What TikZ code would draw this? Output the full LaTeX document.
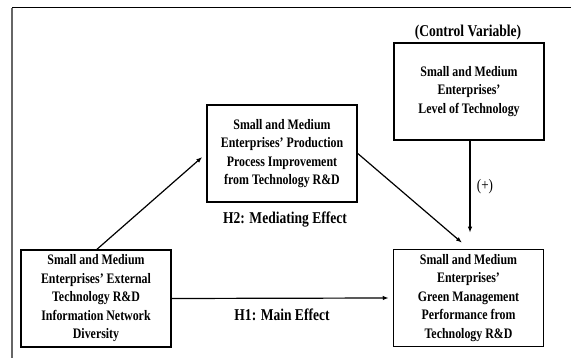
\documentclass[tikz,border=0pt]{standalone}
\usepackage{fontspec}
\setmainfont{Liberation Serif}[FakeStretch=0.82]
\usetikzlibrary{arrows.meta}
\begin{document}
\begin{tikzpicture}[x=1pt,y=-1pt,
  box/.style={draw=black,line width=1.5pt,minimum width=150pt,minimum height=97pt,
    align=center,inner sep=0pt,font=\fontsize{14.5pt}{18.5pt}\selectfont\bfseries},
  lbl/.style={font=\fontsize{16.5pt}{18pt}\selectfont\bfseries,inner sep=0pt},
  arr/.style={line width=1.2pt,-{Latex[length=6pt,width=4.5pt]}}]
\useasboundingbox (0,0) rectangle (571,358);
\fill[white] (0,0) rectangle (571,358);
\draw[black,line width=1pt] (12,8) -- (571,8);
\draw[gray!80!black,line width=1.4pt] (12,8) -- (12,358);
\node[box] (ext) at (96,298.5) {Small and Medium\\Enterprises' External\\Technology R\&D\\Information Network\\Diversity};
\node[box] (mid) at (282,153.5) {Small and Medium\\Enterprises' Production\\Process Improvement\\from Technology R\&D};
\node[box] (ctl) at (469,91.5) {Small and Medium\\Enterprises'\\Level of Technology};
\node[box] (grn) at (468.5,298) {Small and Medium\\Enterprises'\\Green Management\\Performance from\\Technology R\&D};
\node[lbl] (cv) at (468,33) {(Control Variable)};
\node[inner sep=0pt,font=\fontsize{16pt}{18pt}\selectfont] (plus) at (485,187) {(+)};
\node[lbl] (h2) at (285,220) {H2: Mediating Effect};
\node[lbl] (h1) at (282,315) {H1: Main Effect};
\draw[arr] ([xshift=1pt]ext.north) -- ([shift={(-4pt,-3.5pt)}]mid.west);
\draw[arr] (mid.east) -- ([shift={(-6.5pt,6pt)}]grn.north);
\draw[arr] ([xshift=1pt]ctl.south) -- ([shift={(1.5pt,16pt)}]grn.north);
\draw[arr] (ext.east) -- ([xshift=-4pt]grn.west);
\end{tikzpicture}
\end{document}
